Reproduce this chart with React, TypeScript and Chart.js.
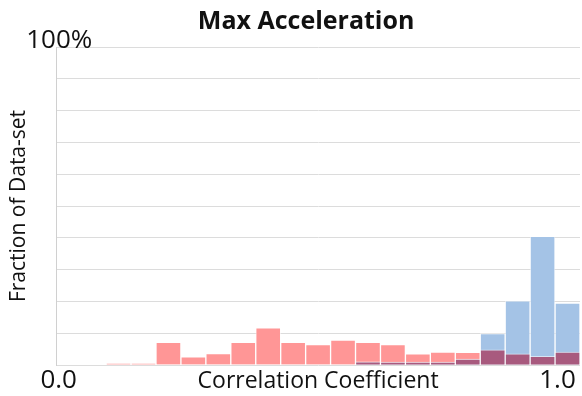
import React, { useEffect, useRef } from 'react';
import { Chart, registerables } from 'chart.js';

Chart.register(...registerables);

const titleText = 'Max Acceleration';
const yTitle = 'Fraction of Data-set';
const xTitle = 'Correlation Coefficient';
const bins = ['1', '2', '3', '4', '5', '6', '7', '8', '9', '10', '11', '12', '13', '14', '15', '16', '17', '18', '19', '20', '21'];
const xTickLabels: Record<number, string> = { 0: '0.0', 20: '1.0' };
const yTickLabels: Record<number, string> = { 100: '100%' };
const redValues = [0, 0, 0.5, 0.5, 7.1, 2.6, 3.6, 7.1, 11.7, 7.1, 6.4, 7.8, 7.1, 6.4, 3.5, 4.1, 4.0, 4.8, 3.5, 2.7, 4.1];
const blueValues = [0, 0, 0, 0, 0, 0, 0, 0, 0, 0, 0, 0, 1.0, 0.9, 0.9, 0.9, 1.9, 9.9, 20.2, 40.5, 19.5];

const W = 582;
const H = 396;
const FONT = "'Open Sans', sans-serif";

export default function App() {
  const ref = useRef<HTMLCanvasElement | null>(null);

  useEffect(() => {
    document.body.style.margin = '0';
    const canvas = ref.current;
    if (!canvas) return;
    const overlap = redValues.map((r, i) => Math.min(r, blueValues[i]));
    const titlePlugin = {
      id: 'customTitle',
      afterDraw(chart: any) {
        const ctx = chart.ctx;
        ctx.save();
        ctx.font = `bold 25px ${FONT}`;
        ctx.fillStyle = '#111';
        ctx.textAlign = 'center';
        ctx.textBaseline = 'alphabetic';
        ctx.fillText(titleText, (chart.chartArea.left + chart.chartArea.right) / 2 - 12, 29);
        ctx.restore();
      },
    };
    const barCommon = {
      grouped: false,
      barPercentage: 1,
      categoryPercentage: 1,
      borderWidth: 1,
      borderColor: 'rgba(255,255,255,0.55)',
    };
    const chart = new Chart(canvas, {
      type: 'bar',
      data: {
        labels: bins,
        datasets: [
          { label: 'Overlap', data: overlap, backgroundColor: '#a85a7e', order: 0, ...barCommon },
          { label: 'Blue', data: blueValues, backgroundColor: '#a4c3e6', order: 1, ...barCommon },
          { label: 'Red', data: redValues, backgroundColor: '#ff9696', order: 2, ...barCommon },
        ],
      },
      options: {
        animation: false,
        responsive: false,
        layout: { padding: { top: 47, left: 0, right: 2, bottom: 0 } },
        plugins: {
          legend: { display: false },
          tooltip: { enabled: false },
          title: { display: false },
        },
        scales: {
          x: {
            grid: { display: false, drawTicks: false },
            border: { display: false },
            ticks: {
              autoSkip: false,
              maxRotation: 0,
              minRotation: 0,
              padding: -6,
              labelOffset: -10,
              color: '#111',
              font: { family: FONT, size: 26, lineHeight: '44px' },
              callback: (_v: any, i: number) => xTickLabels[i] ?? '',
            },
            title: {
              display: true,
              text: xTitle,
              color: '#111',
              font: { family: FONT, size: 23, lineHeight: '30px' },
              padding: { top: -31, bottom: 0 },
            },
          },
          y: {
            min: 0,
            max: 100,
            grid: { color: '#dcdcdc', lineWidth: 1, drawTicks: false },
            border: { color: '#d0d0d0' },
            ticks: {
              stepSize: 10,
              mirror: true,
              padding: -30,
              crossAlign: 'near',
              labelOffset: -6,
              color: '#111',
              font: { family: FONT, size: 26, lineHeight: '20px' },
              callback: (v: any) => yTickLabels[Number(v)] ?? '',
            },
            title: {
              display: true,
              text: yTitle,
              color: '#111',
              font: { family: FONT, size: 21, lineHeight: 1.2 },
              padding: { top: 6, bottom: 85 },
            },
          },
        },
      } as any,
      plugins: [titlePlugin],
    });
    return () => chart.destroy();
  }, []);

  return <canvas ref={ref} width={W} height={H} style={{ display: 'block' }} />;
}
